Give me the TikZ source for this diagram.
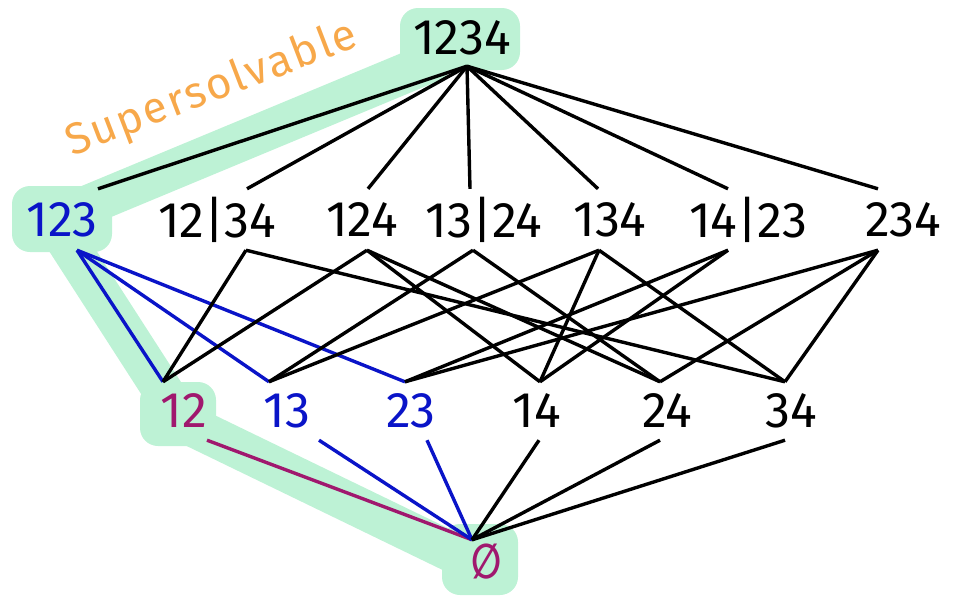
\documentclass[tikz,border=0pt]{standalone}
\usepackage{fontspec}
\setmainfont{Fira Sans}
\newfontfamily\handfont[LetterSpace=5]{Fira Sans}
\newfontfamily\symfont{DejaVu Sans}
\definecolor{hlgreen}{HTML}{BDF2D5}
\definecolor{lblue}{HTML}{0A14C8}
\definecolor{lmag}{HTML}{A0186E}
\definecolor{lorange}{HTML}{F7A84A}
\begin{document}
\begin{tikzpicture}[x=1pt,y=-1pt,
  lab/.style={font=\fontsize{50}{50}\selectfont, inner sep=0pt, text=black},
  rtwo/.style={lab, minimum height=61pt},
  rthree/.style={lab, minimum height=58pt},
  edge/.style={line width=3.4pt, black},
  bedge/.style={line width=3.4pt, lblue},
  medge/.style={line width=3.4pt, lmag},
  band/.style={line width=40pt, hlgreen, line cap=round, line join=round},
  blob/.style={fill=hlgreen, rounded corners=18pt}]
\useasboundingbox (0,0) rectangle (961,597);
% highlight
\fill[blob] (400,8) rectangle (520,70);
\fill[blob] (12,186) rectangle (112,252);
\fill[blob] (140,382) rectangle (216,446);
\fill[blob] (442,524) rectangle (518,595);
\draw[band] (432,62) -- (88,205);
\draw[band] (58,228) -- (172,405);
\draw[band] (183,422) -- (472,562);
% label
\node[font=\handfont\fontsize{44}{44}\selectfont, text=lorange, rotate=21, inner sep=0pt] (title) at (212,90) {Supersolvable};
% nodes
\node[lab, minimum height=56pt] (n1234) at (462,38) {1234};
\node[rtwo, text=lblue] (n123) at (62,219.5) {123};
\node[rtwo] (n12x34) at (217,219.5) {12|34};
\node[rtwo] (n124) at (362,219.5) {124};
\node[rtwo] (n13x24) at (484,219.5) {13|24};
\node[rtwo] (n134) at (610,219.5) {134};
\node[rtwo] (n14x23) at (748,219.5) {14|23};
\node[rtwo] (n234) at (903,219.5) {234};
\node[rthree, text=lmag] (n12) at (184,411) {12};
\node[rthree, text=lblue] (n13) at (287,411) {13};
\node[rthree, text=lblue] (n23) at (411,411) {23};
\node[rthree] (n14) at (537,411) {14};
\node[rthree] (n24) at (667,411) {24};
\node[rthree] (n34) at (791,411) {34};
\node[lab, text=lmag, minimum height=44pt] (n0) at (487,562) {\symfont\bfseries\fontsize{44}{44}\selectfont\scalebox{0.8}[1.1]{∅}};
% top edges
\draw[edge] ([xshift=5pt]n1234.south) -- ([xshift=36pt]n123.north);
\draw[edge] ([xshift=5pt]n1234.south) -- ([xshift=30pt]n12x34.north);
\draw[edge] ([xshift=5pt]n1234.south) -- ([xshift=6pt]n124.north);
\draw[edge] ([xshift=5pt]n1234.south) -- ([xshift=-14pt]n13x24.north);
\draw[edge] ([xshift=5pt]n1234.south) -- ([xshift=-12pt]n134.north);
\draw[edge] ([xshift=5pt]n1234.south) -- ([xshift=-20pt]n14x23.north);
\draw[edge] ([xshift=5pt]n1234.south) -- ([xshift=-25pt]n234.north);
% middle edges
\draw[bedge] ([xshift=15pt]n123.south) -- ([xshift=-21pt]n12.north);
\draw[bedge] ([xshift=15pt]n123.south) -- ([xshift=-18pt]n13.north);
\draw[bedge] ([xshift=15pt]n123.south) -- ([xshift=-6pt]n23.north);
\draw[edge] ([xshift=29pt]n12x34.south) -- ([xshift=-21pt]n12.north);
\draw[edge] ([xshift=29pt]n12x34.south) -- ([xshift=-6pt]n34.north);
\draw[edge] ([xshift=5pt]n124.south) -- ([xshift=-21pt]n12.north);
\draw[edge] ([xshift=5pt]n124.south) -- ([xshift=3pt]n14.north);
\draw[edge] ([xshift=5pt]n124.south) -- ([xshift=-7pt]n24.north);
\draw[edge] ([xshift=-11pt]n13x24.south) -- ([xshift=-18pt]n13.north);
\draw[edge] ([xshift=-11pt]n13x24.south) -- ([xshift=-7pt]n24.north);
\draw[edge] ([xshift=-11pt]n134.south) -- ([xshift=-18pt]n13.north);
\draw[edge] ([xshift=-11pt]n134.south) -- ([xshift=3pt]n14.north);
\draw[edge] ([xshift=-11pt]n134.south) -- ([xshift=-6pt]n34.north);
\draw[edge] ([xshift=-20pt]n14x23.south) -- ([xshift=3pt]n14.north);
\draw[edge] ([xshift=-20pt]n14x23.south) -- ([xshift=-6pt]n23.north);
\draw[edge] ([xshift=-25pt]n234.south) -- ([xshift=-6pt]n23.north);
\draw[edge] ([xshift=-25pt]n234.south) -- ([xshift=-7pt]n24.north);
\draw[edge] ([xshift=-25pt]n234.south) -- ([xshift=-6pt]n34.north);
% bottom edges
\draw[medge] ([xshift=23pt]n12.south) -- ([xshift=-15pt]n0.north);
\draw[bedge] ([xshift=32pt]n13.south) -- ([xshift=-15pt]n0.north);
\draw[bedge] ([xshift=16pt]n23.south) -- ([xshift=-15pt]n0.north);
\draw[edge] ([xshift=2pt]n14.south) -- ([xshift=-15pt]n0.north);
\draw[edge] ([xshift=-7pt]n24.south) -- ([xshift=-15pt]n0.north);
\draw[edge] ([xshift=-6pt]n34.south) -- ([xshift=-15pt]n0.north);
\end{tikzpicture}
\end{document}
